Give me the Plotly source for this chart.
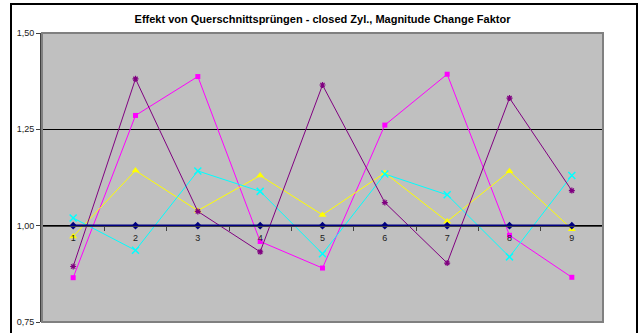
import plotly.graph_objects as go

# Positions along the cross-section (category axis)
positions = ["1", "2", "3", "4", "5", "6", "7", "8", "9"]

# Magnitude change factors per series
reference_line = [1.00, 1.00, 1.00, 1.00, 1.00, 1.00, 1.00, 1.00, 1.00]
series_magenta = [0.865, 1.286, 1.387, 0.959, 0.890, 1.261, 1.393, 0.975, 0.866]
series_yellow = [0.972, 1.143, 1.039, 1.130, 1.028, 1.137, 1.011, 1.141, 0.991]
series_cyan = [1.020, 0.936, 1.142, 1.089, 0.927, 1.134, 1.080, 0.919, 1.130]
series_purple = [0.894, 1.381, 1.037, 0.932, 1.365, 1.060, 0.903, 1.331, 1.091]

y_ticks = [0.75, 1.00, 1.25, 1.50]

FONT = "Liberation Sans, Arial, sans-serif"

fig = go.Figure()

fig.add_trace(go.Scatter(
    x=positions, y=series_magenta, mode="lines+markers",
    line=dict(color="#FF00FF", width=1),
    marker=dict(symbol="square", size=5, color="#FF00FF"),
))
fig.add_trace(go.Scatter(
    x=positions, y=series_yellow, mode="lines+markers",
    line=dict(color="#FFFF00", width=1),
    marker=dict(symbol="triangle-up", size=7, color="#FFFF00"),
))
fig.add_trace(go.Scatter(
    x=positions, y=series_cyan, mode="lines+markers",
    line=dict(color="#00FFFF", width=1),
    marker=dict(symbol="x-thin-open", size=7, line=dict(color="#00FFFF", width=1.5)),
))
fig.add_trace(go.Scatter(
    x=positions, y=series_purple, mode="lines+markers",
    line=dict(color="#800080", width=1),
    marker=dict(symbol="asterisk-open", size=5, line=dict(color="#800080", width=1.2)),
))
fig.add_trace(go.Scatter(
    x=positions, y=reference_line, mode="lines+markers",
    line=dict(color="#000080", width=2.5),
    marker=dict(symbol="diamond", size=6, color="#000080"),
))

fig.update_layout(
    template="none",
    width=644, height=333,
    margin=dict(l=42, r=41, t=33, b=11),
    paper_bgcolor="white",
    plot_bgcolor="#C0C0C0",
    showlegend=False,
    separators=",.",
    font=dict(family=FONT, size=9, color="#000000"),
    title=dict(
        text="<b>Effekt von Querschnittsprüngen - closed Zyl., Magnitude Change Faktor</b>",
        x=0.5, xref="paper", xanchor="center",
        y=1 - 19 / 333, yref="container", yanchor="middle",
        font=dict(family=FONT, size=11, color="#000000"),
    ),
    xaxis=dict(
        type="category",
        range=[-0.5, 8.5],
        anchor="free",
        position=1 / 3,
        automargin=False,
        showline=True, linecolor="#404040", linewidth=1,
        ticks="outside", tickson="boundaries", ticklen=4,
        tickcolor="#404040", tickwidth=1,
        ticklabelstandoff=4,
        showgrid=False, zeroline=False,
        tickfont=dict(family=FONT, size=9, color="#202020"),
        fixedrange=True,
    ),
    yaxis=dict(
        range=[0.75, 1.5],
        tickvals=y_ticks,
        tickformat=".2f",
        automargin=False,
        showline=True, linecolor="#404040", linewidth=2,
        ticks="outside", ticklen=4, tickcolor="#404040",
        showgrid=True, gridcolor="#000000", gridwidth=1,
        zeroline=False,
        tickfont=dict(family=FONT, size=9, color="#202020"),
        fixedrange=True,
    ),
    shapes=[
        # plot-area border
        dict(type="rect", xref="x domain", yref="y domain",
             x0=0, x1=1, y0=0, y1=1,
             line=dict(color="#808080", width=2), layer="above"),
        # chart frame
        dict(type="rect", xref="paper", yref="paper",
             x0=(11 - 42) / 561, x1=(637 - 42) / 561,
             y0=-0.2, y1=(322 - 4) / 289,
             line=dict(color="#000000", width=2), layer="below"),
    ],
)

fig.write_html("out.html", config={"displayModeBar": False})
